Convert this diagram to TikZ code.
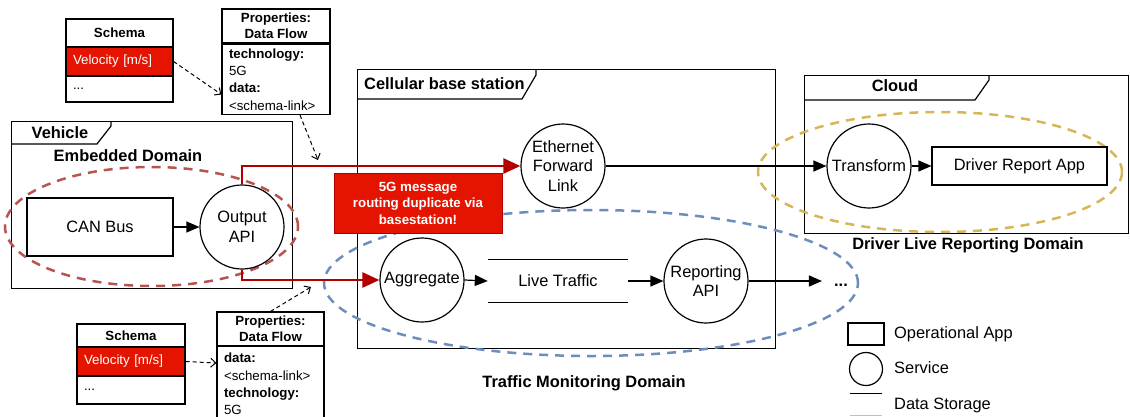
\documentclass[tikz,border=0pt]{standalone}
\usepackage{fontspec}
\setmainfont{Liberation Sans}
\usetikzlibrary{arrows.meta,calc}
\definecolor{redstroke}{HTML}{B20000}
\definecolor{redfill}{HTML}{E51400}
\definecolor{domred}{HTML}{B85450}
\definecolor{domblue}{HTML}{6C8EBF}
\definecolor{domyellow}{HTML}{D6B656}
\newcommand\myfA{\fontsize{16.4}{19.8}\selectfont}
\newcommand\myfB{\fontsize{13.3}{17.3}\selectfont}
\newcommand\myfC{\fontsize{13.3}{16}\selectfont}
\begin{document}
\begin{tikzpicture}[x=1pt,y=-1pt,
  bx/.style={draw, line width=1.1pt, fill=white, rectangle, inner sep=0pt, align=center, font=\myfA},
  svc/.style={draw, circle, line width=1.2pt, fill=white, minimum size=84pt, inner sep=0pt, align=center, font=\myfA},
  frm/.style={draw, line width=1.2pt, rectangle, anchor=north west, inner sep=0pt},
  tabline/.style={line width=1.2pt},
  lbl/.style={font=\myfA\bfseries, inner sep=0pt},
  tblh/.style={draw, line width=1.1pt, fill=white, inner sep=0pt, font=\myfC\bfseries, align=center},
  tblr/.style={draw, line width=1.1pt, fill=redfill, text=white, inner xsep=7pt, inner ysep=0pt, font=\myfB, align=left},
  tbld/.style={draw, line width=1.1pt, fill=white, inner xsep=7pt, inner ysep=0pt, font=\myfB, align=left},
  conn/.style={line width=1.2pt, -{Triangle[length=13pt,width=11pt]}},
  redconn/.style={draw=redstroke, line width=2.6pt, -{Triangle[length=17pt,width=15pt]}},
  dsh/.style={line width=1pt, dash pattern=on 4pt off 3pt, -{Straight Barb[length=5pt,width=9pt]}},
  dom/.style={line width=2.5pt, dash pattern=on 9pt off 7pt}
]
\useasboundingbox (0,0) rectangle (1130,416);

% ---------- frames ----------
\node[frm, minimum width=281pt, minimum height=167pt] (veh) at (11,121) {};
\draw[tabline] (11,144) -- (97,144) -- (111,126) -- (111,121);
\node[lbl] (vehl) at (60,133) {Vehicle};
\node[lbl] (embl) at (128,156) {Embedded Domain};

\node[frm, minimum width=418pt, minimum height=279pt] (cell) at (357,69) {};
\draw[tabline] (357,99) -- (522,99) -- (536,75) -- (536,69);
\node[lbl, anchor=west] (celll) at (364,84) {Cellular base station};

\node[frm, minimum width=324pt, minimum height=158pt] (cloud) at (804,75) {};
\draw[tabline] (804,100) -- (975,100) -- (989,80) -- (989,75);
\node[lbl] (cloudl) at (895,86) {Cloud};

\node[lbl] (tmd) at (584,383) {Traffic Monitoring Domain};
\node[lbl] (dlr) at (968,245) {Driver Live Reporting Domain};

% ---------- domain ellipses ----------
\draw[dom, draw=domred] (151.5,226.5) ellipse [x radius=146.5pt, y radius=59.5pt];
\draw[dom, draw=domblue] (591,283) ellipse [x radius=267pt, y radius=73pt];
\draw[dom, draw=domyellow] (940,172) ellipse [x radius=182pt, y radius=60pt];

% ---------- services / apps ----------
\node[bx, minimum width=146pt, minimum height=58pt] (can) at (100,227) {CAN Bus};
\node[svc] (out) at (242,227) {Output\\API};
\node[svc] (eth) at (563,166) {Ethernet\\Forward\\Link};
\node[svc] (agg) at (422,280) {Aggregate};
\node[inner sep=0pt, minimum width=140pt, minimum height=42pt, font=\myfA] (live) at (558,281) {Live Traffic};
\draw[line width=1.2pt] (live.north west) -- (live.north east);
\draw[line width=1.2pt] (live.south west) -- (live.south east);
\node[svc] (rep) at (706,281) {Reporting\\API};
\node[inner sep=0pt, font=\myfA\bfseries] (dots) at (841,285) {...};
\node[svc] (tra) at (869,166) {Transform};
\node[bx, minimum width=175pt, minimum height=38pt] (dra) at (1019.5,166) {Driver Report App};

% ---------- red note ----------
\node[draw=redstroke, line width=1pt, fill=redfill, text=white, minimum width=168pt, minimum height=60pt,
      inner sep=0pt, align=center, font=\fontsize{13.3}{16.5}\selectfont\bfseries] (note) at (418,203)
      {5G message\\routing duplicate via\\basestation!};

% ---------- connectors ----------
\draw[conn] (can.east) -- (out.west);
\draw[redconn] (out.north) |- (eth.west);
\draw[redconn] (out.south) |- (agg.west);
\draw[conn] (agg.east) -- (live.west);
\draw[conn] (live.east) -- (rep.west);
\draw[conn, shorten >=12pt] (rep.east) -- (dots.west |- rep.east);
\draw[conn] (eth.east) -- (tra.west);
\draw[conn] (tra.east) -- (dra.west);

% ---------- top schema / properties ----------
\node[tblh, minimum width=107pt, minimum height=28pt] (s1h) at (119.5,33) {Schema};
\node[tblr, text width=93pt, minimum height=29pt] (s1v) at (119.5,61.5) {Velocity [m/s]};
\node[tbld, text width=93pt, minimum height=26pt] (s1d) at (119.5,89) {...};

\node[tblh, minimum width=108pt, minimum height=34pt] (p1h) at (276,26) {Properties:\\Data Flow};
\node[tbld, text width=94pt, minimum height=70pt] (p1b) at (276,79.5)
  {\textbf{technology:}\\5G\\\textbf{data:}\\<schema-link>};

\coordinate (c1) at (318,160);
\draw[dsh] (s1v.east) -- ([yshift=-15pt]p1b.west);
\draw[dsh] ([xshift=24pt]p1b.south) -- (c1);

% ---------- bottom schema / properties ----------
\node[tblh, minimum width=108pt, minimum height=23pt] (s2h) at (131,335.5) {Schema};
\node[tblr, text width=94pt, minimum height=29pt] (s2v) at (131,361.5) {Velocity [m/s]};
\node[tbld, text width=94pt, minimum height=28pt] (s2d) at (131,390) {...};

\node[tblh, minimum width=107pt, minimum height=34pt] (p2h) at (270.5,329) {Properties:\\Data Flow};
\node[tbld, text width=93pt, minimum height=76pt] (p2b) at (270.5,384)
  {\textbf{data:}\\<schema-link>\\\textbf{technology:}\\5G};

\coordinate (c2) at (311,287);
\draw[dsh] (s2v.east) -- ([yshift=21pt]p2b.west);
\draw[dsh] (p2h.north) -- (c2);

% ---------- legend ----------
\node[bx, minimum width=36pt, minimum height=22pt] (lgapp) at (866,334) {};
\node[anchor=west, inner sep=0pt, font=\myfA] (lgappt) at (894,334) {Operational App};
\node[svc, minimum size=33pt] (lgsvc) at (866,369) {};
\node[anchor=west, inner sep=0pt, font=\myfA] (lgsvct) at (894,368) {Service};
\node[inner sep=0pt, minimum width=32pt, minimum height=22pt] (lgds) at (866,404.5) {};
\draw[line width=1.2pt] (lgds.north west) -- (lgds.north east);
\draw[line width=1.2pt, draw=black!25] (lgds.south west) -- (lgds.south east);
\node[anchor=west, inner sep=0pt, font=\myfA] (lgdst) at (894,405) {Data Storage};
\end{tikzpicture}
\end{document}
